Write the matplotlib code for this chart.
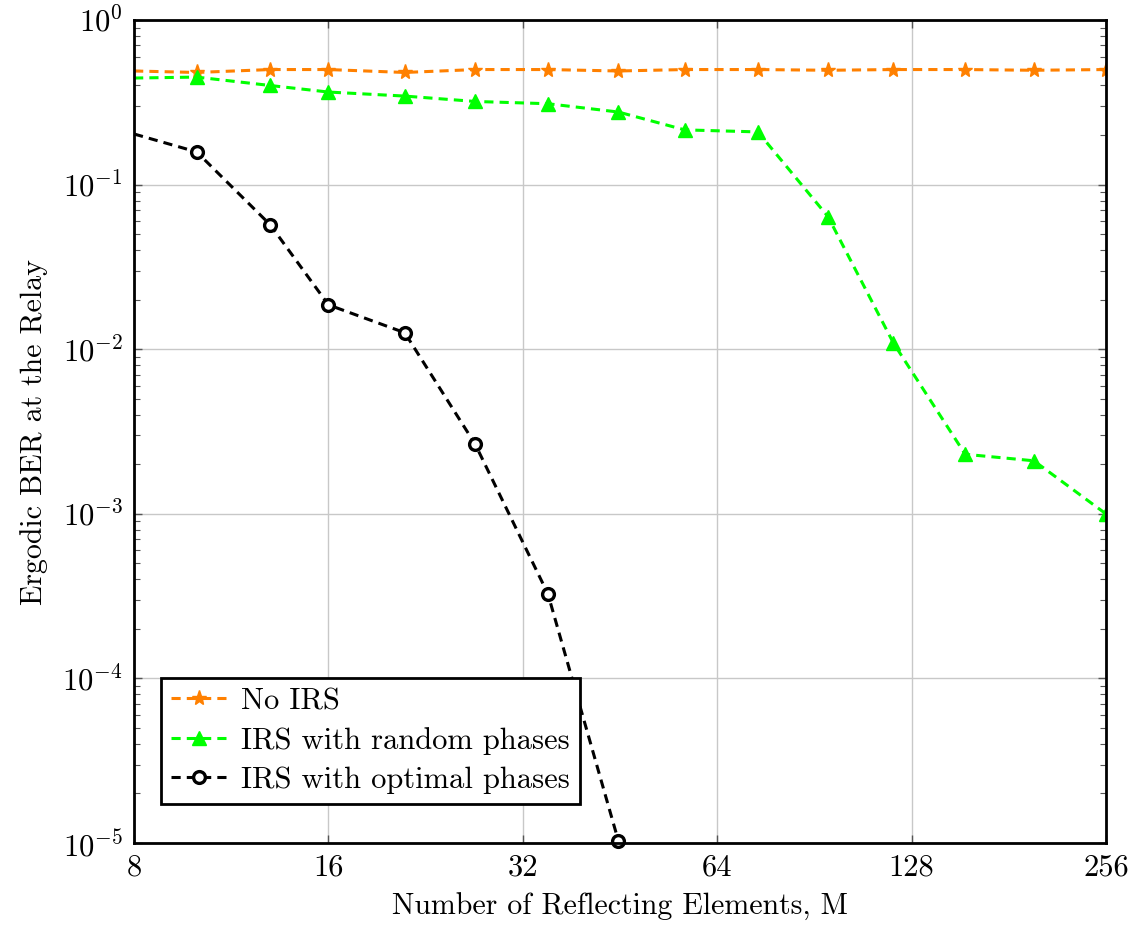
import matplotlib
matplotlib.use('Agg')
import matplotlib.pyplot as plt
from matplotlib.ticker import LogLocator, NullFormatter

plt.rcParams['font.family'] = 'serif'
plt.rcParams['font.serif'] = ['cmr10']
plt.rcParams['mathtext.fontset'] = 'cm'
plt.rcParams['axes.formatter.use_mathtext'] = True

# data
M = [8, 10, 13, 16, 21, 27, 35, 45, 57, 74, 95, 120, 155, 198, 256]
ber_no_irs = [0.49, 0.48, 0.50, 0.50, 0.48, 0.50, 0.50, 0.49, 0.50, 0.50, 0.495, 0.50, 0.50, 0.495, 0.50]
ber_random = [0.444, 0.45, 0.40, 0.365, 0.345, 0.32, 0.31, 0.276, 0.215, 0.209, 0.064, 0.0109, 0.0023, 0.0021, 0.001]
M_opt = [8, 10, 13, 16, 21, 27, 35, 45]
ber_optimal = [0.203, 0.158, 0.057, 0.0186, 0.0126, 0.00265, 0.000326, 1.03e-5]

xticks = [8, 16, 32, 64, 128, 256]

fig = plt.figure(figsize=(11.46, 9.30), dpi=100)
ax = fig.add_axes([0.117, 0.0935, 0.848, 0.885])

dash = (3.0, 2.0)
ax.plot(M, ber_no_irs, color='#ff8000', linestyle='--', dashes=dash, lw=2.2,
        marker='*', markersize=11, markevery=slice(1, None), label='No IRS')
ax.plot(M, ber_random, color='#00ff00', linestyle='--', dashes=dash, lw=2.2,
        marker='^', markersize=10, markevery=slice(1, None), label='IRS with random phases')
ax.plot(M_opt, ber_optimal, color='black', linestyle='--', dashes=dash, lw=2.2,
        marker='o', markersize=8.5, markerfacecolor='white', markeredgewidth=2.4,
        markevery=slice(1, None), label='IRS with optimal phases', clip_on=False)

ax.set_xscale('log', base=2)
ax.set_yscale('log')
ax.set_xlim(8, 256)
ax.set_ylim(1e-5, 1)
ax.set_xticks(xticks)
ax.set_xticklabels([str(t) for t in xticks])
ax.xaxis.set_minor_locator(matplotlib.ticker.NullLocator())
ax.yaxis.set_major_locator(LogLocator(base=10, numticks=10))
ax.yaxis.set_minor_locator(LogLocator(base=10, subs=range(2, 10), numticks=20))
ax.yaxis.set_minor_formatter(NullFormatter())

ax.tick_params(which='both', direction='in', top=True, right=True, labelsize=22, color='#555555')
ax.tick_params(which='major', length=6, width=1, pad=8)
ax.tick_params(which='minor', length=4, width=0.8)
ax.grid(True, which='major', color='#c8c8c8', lw=1)
for s in ax.spines.values():
    s.set_linewidth(2)

ax.set_xlabel('Number of Reflecting Elements, M', fontsize=21.5, labelpad=8)
ax.set_ylabel('Ergodic BER at the Relay', fontsize=21.5, labelpad=10)

leg = ax.legend(loc='lower left', bbox_to_anchor=(0.028, 0.048), fontsize=22, fancybox=False,
                edgecolor='black', framealpha=1, handlelength=1.8, borderpad=0.32,
                labelspacing=0.38, handletextpad=0.5, borderaxespad=0)
leg.get_frame().set_linewidth(2)

fig.savefig('out.png', dpi=100)
